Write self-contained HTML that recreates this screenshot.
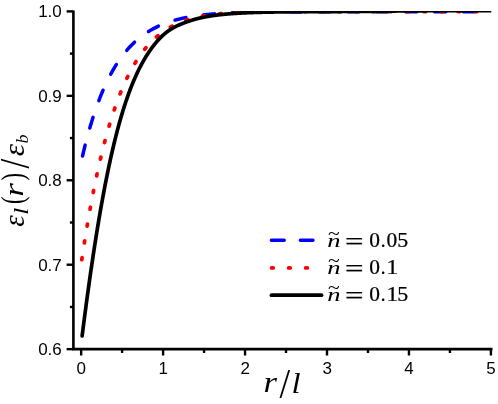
<!DOCTYPE html>
<html><head><meta charset="utf-8"><title>plot</title>
<style>
html,body{margin:0;padding:0;background:#fff;}
svg{display:block;}
.s{font-family:"Liberation Sans",sans-serif;font-size:17px;fill:#000;}
</style></head><body>
<svg width="498" height="404" viewBox="0 0 498 404">
<rect width="498" height="404" fill="#fff"/>
<g fill="none" stroke-linecap="round" stroke-linejoin="round">
<path d="M82.5,156.00 L83.0,153.97 L83.5,151.87 L84.0,149.81 L84.5,147.78 L85.0,145.77 L85.5,143.80 L86.0,141.86 L86.5,139.94 L87.0,138.06 L87.5,136.20 L88.0,134.37 L88.5,132.57 L89.0,130.79 L89.5,129.04 L90.0,127.31 L90.5,125.62 L91.0,123.94 L91.5,122.29 L92.0,120.67 L92.5,119.06 L93.0,117.49 L93.5,115.93 L94.0,114.40 L94.5,112.89 L95.0,111.40 L95.5,109.94 L96.0,108.49 L96.5,107.07 L97.0,105.67 L97.5,104.29 L98.0,102.92 L98.5,101.58 L99.0,100.26 L99.5,98.96 L100.0,97.67 L100.5,96.41 L101.0,95.16 L101.5,93.93 L102.0,92.72 L102.5,91.53 L103.0,90.35 L103.5,89.20 L104.0,88.05 L104.5,86.93 L105.0,85.82 L105.5,84.73 L106.0,83.65 L106.5,82.59 L107.0,81.54 L107.5,80.51 L108.0,79.50 L108.5,78.49 L109.0,77.51 L109.5,76.54 L110.0,75.58 L110.5,74.63 L111.0,73.70 L111.5,72.78 L112.0,71.88 L112.5,70.99 L113.0,70.11 L113.5,69.25 L114.0,68.39 L114.5,67.55 L115.0,66.72 L115.5,65.91 L116.0,65.10 L116.5,64.31 L117.0,63.53 L117.5,62.76 L118.0,62.00 L118.5,61.25 L119.0,60.51 L119.5,59.78 L120.0,59.07 L120.5,58.36 L121.0,57.67 L121.5,56.98 L122.0,56.30 L122.5,55.64 L123.0,54.98 L123.5,54.33 L124.0,53.69 L124.5,53.07 L125.0,52.45 L125.5,51.84 L126.0,51.23 L126.5,50.64 L127.0,50.06 L127.5,49.48 L128.0,48.91 L128.5,48.35 L129.0,47.80 L129.5,47.26 L130.0,46.72 L130.5,46.19 L131.0,45.67 L131.5,45.16 L132.0,44.65 L132.5,44.15 L133.0,43.66 L133.5,43.18 L134.0,42.70 L134.5,42.23 L135.0,41.77 L135.5,41.31 L136.0,40.86 L136.5,40.42 L137.0,39.98 L137.5,39.55 L138.0,39.12 L138.5,38.71 L139.0,38.29 L139.5,37.89 L140.0,37.49 L140.5,37.09 L141.0,36.70 L141.5,36.32 L142.0,35.94 L142.5,35.57 L143.0,35.20 L143.5,34.84 L144.0,34.48 L144.5,34.13 L145.0,33.79 L145.5,33.45 L146.0,33.11 L146.5,32.78 L147.0,32.45 L147.5,32.13 L148.0,31.81 L148.5,31.50 L149.0,31.19 L149.5,30.89 L150.0,30.59 L150.5,30.30 L151.0,30.01 L151.5,29.72 L152.0,29.44 L152.5,29.16 L153.0,28.89 L153.5,28.62 L154.0,28.35 L154.5,28.09 L155.0,27.83 L155.5,27.58 L156.0,27.33 L156.5,27.08 L157.0,26.84 L157.5,26.60 L158.0,26.37 L158.5,26.13 L159.0,25.91 L159.5,25.68 L160.0,25.46 L160.5,25.24 L161.0,25.02 L161.5,24.81 L162.0,24.60 L162.5,24.40 L163.0,24.19 L163.5,23.99 L164.0,23.80 L164.5,23.60 L165.0,23.41 L165.5,23.22 L166.0,23.04 L166.5,22.86 L167.0,22.68 L167.5,22.50 L168.0,22.33 L168.5,22.15 L169.0,21.98 L169.5,21.82 L170.0,21.65 L170.5,21.49 L171.0,21.33 L171.5,21.18 L172.0,21.02 L172.5,20.87 L173.0,20.72 L173.5,20.57 L174.0,20.43 L174.5,20.28 L175.0,20.14 L175.5,20.00 L176.0,19.87 L176.5,19.73 L177.0,19.60 L177.5,19.47 L178.0,19.34 L178.5,19.22 L179.0,19.09 L179.5,18.97 L180.0,18.85 L180.5,18.73 L181.0,18.61 L181.5,18.50 L182.0,18.38 L182.5,18.27 L183.0,18.16 L183.5,18.06 L184.0,17.95 L184.5,17.84 L185.0,17.74 L185.5,17.64 L186.0,17.54 L186.5,17.44 L187.0,17.34 L187.5,17.25 L188.0,17.16 L188.5,17.06 L189.0,16.97 L189.5,16.88 L190.0,16.80 L190.5,16.71 L191.0,16.62 L191.5,16.54 L192.0,16.46 L192.5,16.38 L193.0,16.30 L193.5,16.22 L194.0,16.14 L194.5,16.06 L195.0,15.99 L195.5,15.92 L196.0,15.84 L196.5,15.77 L197.0,15.70 L197.5,15.63 L198.0,15.57 L198.5,15.50 L199.0,15.43 L199.5,15.37 L200.0,15.31 L200.5,15.24 L201.0,15.18 L201.5,15.12 L202.0,15.06 L202.5,15.00 L203.0,14.95 L203.5,14.89 L204.0,14.83 L204.5,14.78 L205.0,14.72 L205.5,14.67 L206.0,14.62 L206.5,14.57 L207.0,14.52 L207.5,14.47 L208.0,14.42 L208.5,14.37 L209.0,14.33 L209.5,14.28 L210.0,14.23 L210.5,14.19 L211.0,14.15 L211.5,14.10 L212.0,14.06 L212.5,14.02 L213.0,13.98 L213.5,13.94 L214.0,13.90 L214.5,13.86 L215.0,13.82 L215.5,13.78 L216.0,13.75 L216.5,13.71 L217.0,13.67 L217.5,13.64 L218.0,13.60 L218.5,13.57 L219.0,13.54 L219.5,13.50 L220.0,13.47 L220.5,13.44 L221.0,13.41 L221.5,13.38 L222.0,13.35 L222.5,13.32 L223.0,13.29 L223.5,13.26 L224.0,13.24 L224.5,13.21 L225.0,13.18 L225.5,13.15 L226.0,13.13 L226.5,13.10 L227.0,13.08 L227.5,13.05 L228.0,13.03 L228.5,13.01 L229.0,12.98 L229.5,12.96 L230.0,12.94 L230.5,12.92 L231.0,12.89 L231.5,12.87 L232.0,12.85 L232.5,12.83 L233.0,12.81 L233.5,12.79 L234.0,12.77 L234.5,12.75 L235.0,12.74 L235.5,12.72 L236.0,12.70 L236.5,12.68 L237.0,12.66 L237.5,12.65 L238.0,12.63 L238.5,12.61 L239.0,12.60 L239.5,12.58 L240.0,12.57 L240.5,12.55 L241.0,12.54 L241.5,12.52 L242.0,12.51 L242.5,12.50 L243.0,12.48 L243.5,12.47 L244.0,12.46 L244.5,12.44 L245.0,12.43 L245.5,12.42 L246.0,12.40 L246.5,12.39 L247.0,12.38 L247.5,12.37 L248.0,12.36 L248.5,12.35 L249.0,12.34 L249.5,12.33 L250.0,12.32 L250.5,12.31 L251.0,12.30 L251.5,12.29 L252.0,12.28 L252.5,12.27 L253.0,12.26 L253.5,12.25 L254.0,12.24 L254.5,12.23 L255.0,12.22 L255.5,12.21 L256.0,12.21 L256.5,12.20 L257.0,12.19 L257.5,12.18 L258.0,12.18 L258.5,12.17 L259.0,12.16 L259.5,12.15 L260.0,12.15 L260.5,12.14 L261.0,12.13 L261.5,12.13 L262.0,12.12 L262.5,12.11 L263.0,12.11 L263.5,12.10 L264.0,12.10 L264.5,12.09 L265.0,12.09 L265.5,12.08 L266.0,12.07 L266.5,12.07 L267.0,12.06 L267.5,12.06 L268.0,12.05 L268.5,12.05 L269.0,12.04 L269.5,12.04 L270.0,12.04 L270.5,12.03 L271.0,12.03 L271.5,12.02 L272.0,12.02 L272.5,12.01 L273.0,12.01 L273.5,12.01 L274.0,12.00 L274.5,12.00 L275.0,12.00 L275.5,11.99 L276.0,11.99 L276.5,11.98 L277.0,11.98 L277.5,11.98 L278.0,11.98 L278.5,11.97 L279.0,11.97 L279.5,11.97 L280.0,11.96 L280.5,11.96 L281.0,11.96 L283.0,11.95 L285.0,11.94 L287.0,11.93 L289.0,11.92 L291.0,11.91 L293.0,11.91 L295.0,11.90 L297.0,11.90 L299.0,11.89 L301.0,11.89 L303.0,11.88 L305.0,11.88 L307.0,11.88 L309.0,11.87 L311.0,11.87 L313.0,11.87 L315.0,11.87 L317.0,11.87 L319.0,11.86 L321.0,11.86 L323.0,11.86 L325.0,11.86 L327.0,11.86 L329.0,11.86 L331.0,11.86 L333.0,11.86 L335.0,11.86 L337.0,11.85 L339.0,11.85 L341.0,11.85 L343.0,11.85 L345.0,11.85 L347.0,11.85 L349.0,11.85 L351.0,11.85 L353.0,11.85 L355.0,11.85 L357.0,11.85 L359.0,11.85 L361.0,11.85 L363.0,11.85 L365.0,11.85 L367.0,11.85 L369.0,11.85 L371.0,11.85 L373.0,11.85 L375.0,11.85 L377.0,11.85 L379.0,11.85 L381.0,11.85 L383.0,11.85 L385.0,11.85 L387.0,11.85 L389.0,11.85 L391.0,11.85 L393.0,11.85 L395.0,11.85 L397.0,11.85 L399.0,11.85 L401.0,11.85 L403.0,11.85 L405.0,11.85 L407.0,11.85 L409.0,11.85 L411.0,11.85 L413.0,11.85 L415.0,11.85 L417.0,11.85 L419.0,11.85 L421.0,11.85 L423.0,11.85 L425.0,11.85 L427.0,11.85 L429.0,11.85 L431.0,11.85 L433.0,11.85 L435.0,11.85 L437.0,11.85 L439.0,11.85 L441.0,11.85 L443.0,11.85 L445.0,11.85 L447.0,11.85 L449.0,11.85 L451.0,11.85 L453.0,11.85 L455.0,11.85 L457.0,11.85 L459.0,11.85 L461.0,11.85 L463.0,11.85 L465.0,11.85 L467.0,11.85 L469.0,11.85 L471.0,11.85 L473.0,11.85 L475.0,11.85 L477.0,11.85 L479.0,11.85 L481.0,11.85 L483.0,11.85 L485.0,11.85 L487.0,11.85 L489.0,11.85 L491.0,11.85" stroke="#0000ff" stroke-width="3.5" stroke-dasharray="11.2 17.7"/>
<path d="M81.8,259.70 L82.0,258.27 L82.5,254.94 L83.0,251.66 L83.5,248.41 L84.0,245.20 L84.5,242.03 L85.0,238.89 L85.5,235.80 L86.0,232.74 L86.5,229.72 L87.0,226.74 L87.5,223.79 L88.0,220.88 L88.5,218.00 L89.0,215.16 L89.5,212.36 L90.0,209.58 L90.5,206.85 L91.0,204.14 L91.5,201.47 L92.0,198.83 L92.5,196.23 L93.0,193.66 L93.5,191.12 L94.0,188.61 L94.5,186.13 L95.0,183.68 L95.5,181.27 L96.0,178.88 L96.5,176.53 L97.0,174.20 L97.5,171.90 L98.0,169.63 L98.5,167.39 L99.0,165.18 L99.5,163.00 L100.0,160.84 L100.5,158.72 L101.0,156.61 L101.5,154.54 L102.0,152.49 L102.5,150.47 L103.0,148.48 L103.5,146.51 L104.0,144.56 L104.5,142.64 L105.0,140.75 L105.5,138.88 L106.0,137.03 L106.5,135.21 L107.0,133.41 L107.5,131.63 L108.0,129.88 L108.5,128.15 L109.0,126.45 L109.5,124.76 L110.0,123.10 L110.5,121.46 L111.0,119.84 L111.5,118.24 L112.0,116.67 L112.5,115.11 L113.0,113.58 L113.5,112.06 L114.0,110.57 L114.5,109.10 L115.0,107.64 L115.5,106.21 L116.0,104.79 L116.5,103.39 L117.0,102.02 L117.5,100.66 L118.0,99.31 L118.5,97.99 L119.0,96.69 L119.5,95.40 L120.0,94.13 L120.5,92.88 L121.0,91.64 L121.5,90.42 L122.0,89.22 L122.5,88.03 L123.0,86.86 L123.5,85.71 L124.0,84.57 L124.5,83.45 L125.0,82.35 L125.5,81.26 L126.0,80.18 L126.5,79.12 L127.0,78.07 L127.5,77.04 L128.0,76.02 L128.5,75.02 L129.0,74.03 L129.5,73.06 L130.0,72.10 L130.5,71.15 L131.0,70.21 L131.5,69.29 L132.0,68.38 L132.5,67.49 L133.0,66.61 L133.5,65.74 L134.0,64.88 L134.5,64.03 L135.0,63.20 L135.5,62.38 L136.0,61.57 L136.5,60.77 L137.0,59.99 L137.5,59.21 L138.0,58.45 L138.5,57.69 L139.0,56.95 L139.5,56.22 L140.0,55.50 L140.5,54.79 L141.0,54.09 L141.5,53.40 L142.0,52.72 L142.5,52.05 L143.0,51.39 L143.5,50.74 L144.0,50.10 L144.5,49.47 L145.0,48.85 L145.5,48.24 L146.0,47.64 L146.5,47.04 L147.0,46.46 L147.5,45.88 L148.0,45.31 L148.5,44.75 L149.0,44.20 L149.5,43.66 L150.0,43.12 L150.5,42.60 L151.0,42.08 L151.5,41.57 L152.0,41.07 L152.5,40.57 L153.0,40.08 L153.5,39.60 L154.0,39.13 L154.5,38.66 L155.0,38.20 L155.5,37.75 L156.0,37.31 L156.5,36.87 L157.0,36.44 L157.5,36.01 L158.0,35.60 L158.5,35.19 L159.0,34.78 L159.5,34.38 L160.0,33.99 L160.5,33.60 L161.0,33.22 L161.5,32.85 L162.0,32.48 L162.5,32.12 L163.0,31.76 L163.5,31.41 L164.0,31.06 L164.5,30.72 L165.0,30.39 L165.5,30.06 L166.0,29.73 L166.5,29.41 L167.0,29.10 L167.5,28.79 L168.0,28.49 L168.5,28.19 L169.0,27.89 L169.5,27.60 L170.0,27.32 L170.5,27.04 L171.0,26.76 L171.5,26.49 L172.0,26.22 L172.5,25.96 L173.0,25.70 L173.5,25.45 L174.0,25.20 L174.5,24.95 L175.0,24.71 L175.5,24.47 L176.0,24.24 L176.5,24.01 L177.0,23.78 L177.5,23.56 L178.0,23.34 L178.5,23.13 L179.0,22.92 L179.5,22.71 L180.0,22.50 L180.5,22.30 L181.0,22.10 L181.5,21.91 L182.0,21.72 L182.5,21.53 L183.0,21.35 L183.5,21.16 L184.0,20.99 L184.5,20.81 L185.0,20.64 L185.5,20.47 L186.0,20.30 L186.5,20.14 L187.0,19.98 L187.5,19.82 L188.0,19.66 L188.5,19.51 L189.0,19.36 L189.5,19.21 L190.0,19.06 L190.5,18.92 L191.0,18.78 L191.5,18.64 L192.0,18.51 L192.5,18.38 L193.0,18.25 L193.5,18.12 L194.0,17.99 L194.5,17.87 L195.0,17.74 L195.5,17.63 L196.0,17.51 L196.5,17.39 L197.0,17.28 L197.5,17.17 L198.0,17.06 L198.5,16.95 L199.0,16.84 L199.5,16.74 L200.0,16.64 L200.5,16.54 L201.0,16.44 L201.5,16.34 L202.0,16.25 L202.5,16.16 L203.0,16.07 L203.5,15.98 L204.0,15.89 L204.5,15.80 L205.0,15.72 L205.5,15.63 L206.0,15.55 L206.5,15.47 L207.0,15.39 L207.5,15.31 L208.0,15.24 L208.5,15.16 L209.0,15.09 L209.5,15.02 L210.0,14.95 L210.5,14.88 L211.0,14.81 L211.5,14.74 L212.0,14.68 L212.5,14.62 L213.0,14.55 L213.5,14.49 L214.0,14.43 L214.5,14.37 L215.0,14.31 L215.5,14.25 L216.0,14.20 L216.5,14.14 L217.0,14.09 L217.5,14.04 L218.0,13.98 L218.5,13.93 L219.0,13.88 L219.5,13.83 L220.0,13.79 L220.5,13.74 L221.0,13.69 L221.5,13.65 L222.0,13.60 L222.5,13.56 L223.0,13.51 L223.5,13.47 L224.0,13.43 L224.5,13.39 L225.0,13.35 L225.5,13.31 L226.0,13.27 L226.5,13.24 L227.0,13.20 L227.5,13.16 L228.0,13.13 L228.5,13.09 L229.0,13.06 L229.5,13.03 L230.0,12.99 L230.5,12.96 L231.0,12.93 L231.5,12.90 L232.0,12.87 L232.5,12.84 L233.0,12.81 L233.5,12.78 L234.0,12.76 L234.5,12.73 L235.0,12.70 L235.5,12.68 L236.0,12.65 L236.5,12.63 L237.0,12.60 L237.5,12.58 L238.0,12.55 L238.5,12.53 L239.0,12.51 L239.5,12.49 L240.0,12.46 L240.5,12.44 L241.0,12.42 L241.5,12.40 L242.0,12.38 L242.5,12.36 L243.0,12.34 L243.5,12.33 L244.0,12.31 L244.5,12.29 L245.0,12.27 L245.5,12.25 L246.0,12.24 L246.5,12.22 L247.0,12.20 L247.5,12.19 L248.0,12.17 L248.5,12.16 L249.0,12.14 L249.5,12.13 L250.0,12.11 L250.5,12.10 L251.0,12.09 L251.5,12.07 L252.0,12.06 L252.5,12.05 L253.0,12.04 L253.5,12.02 L254.0,12.01 L254.5,12.00 L255.0,11.99 L255.5,11.98 L256.0,11.97 L256.5,11.95 L257.0,11.94 L257.5,11.93 L258.0,11.92 L258.5,11.91 L259.0,11.90 L259.5,11.89 L260.0,11.89 L260.5,11.88 L261.0,11.87 L261.5,11.86 L262.0,11.85 L262.5,11.84 L263.0,11.83 L263.5,11.83 L264.0,11.82 L264.5,11.81 L265.0,11.80 L265.5,11.80 L266.0,11.79 L266.5,11.78 L267.0,11.78 L267.5,11.77 L268.0,11.76 L268.5,11.76 L269.0,11.75 L269.5,11.74 L270.0,11.74 L270.5,11.73 L271.0,11.73 L271.5,11.72 L272.0,11.72 L272.5,11.71 L273.0,11.71 L273.5,11.70 L274.0,11.70 L274.5,11.69 L275.0,11.69 L275.5,11.68 L276.0,11.68 L276.5,11.67 L277.0,11.67 L277.5,11.67 L278.0,11.66 L278.5,11.66 L279.0,11.65 L279.5,11.65 L280.0,11.65 L280.5,11.64 L281.0,11.64 L283.0,11.63 L285.0,11.61 L287.0,11.60 L289.0,11.59 L291.0,11.58 L293.0,11.57 L295.0,11.57 L297.0,11.56 L299.0,11.55 L301.0,11.55 L303.0,11.54 L305.0,11.54 L307.0,11.54 L309.0,11.53 L311.0,11.53 L313.0,11.53 L315.0,11.52 L317.0,11.52 L319.0,11.52 L321.0,11.52 L323.0,11.51 L325.0,11.51 L327.0,11.51 L329.0,11.51 L331.0,11.51 L333.0,11.51 L335.0,11.51 L337.0,11.51 L339.0,11.51 L341.0,11.51 L343.0,11.50 L345.0,11.50 L347.0,11.50 L349.0,11.50 L351.0,11.50 L353.0,11.50 L355.0,11.50 L357.0,11.50 L359.0,11.50 L361.0,11.50 L363.0,11.50 L365.0,11.50 L367.0,11.50 L369.0,11.50 L371.0,11.50 L373.0,11.50 L375.0,11.50 L377.0,11.50 L379.0,11.50 L381.0,11.50 L383.0,11.50 L385.0,11.50 L387.0,11.50 L389.0,11.50 L391.0,11.50 L393.0,11.50 L395.0,11.50 L397.0,11.50 L399.0,11.50 L401.0,11.50 L403.0,11.50 L405.0,11.50 L407.0,11.50 L409.0,11.50 L411.0,11.50 L413.0,11.50 L415.0,11.50 L417.0,11.50 L419.0,11.50 L421.0,11.50 L423.0,11.50 L425.0,11.50 L427.0,11.50 L429.0,11.50 L431.0,11.50 L433.0,11.50 L435.0,11.50 L437.0,11.50 L439.0,11.50 L441.0,11.50 L443.0,11.50 L445.0,11.50 L447.0,11.50 L449.0,11.50 L451.0,11.50 L453.0,11.50 L455.0,11.50 L457.0,11.50 L459.0,11.50 L461.0,11.50 L463.0,11.50 L465.0,11.50 L467.0,11.50 L469.0,11.50 L471.0,11.50 L473.0,11.50 L475.0,11.50 L477.0,11.50 L479.0,11.50 L481.0,11.50 L483.0,11.50 L485.0,11.50 L487.0,11.50 L489.0,11.50 L491.0,11.50" stroke="#ff0000" stroke-width="3.8" stroke-dasharray="2.0 15.05"/>
<path d="M82.1,336.00 L82.5,332.87 L83.0,328.95 L83.5,325.07 L84.0,321.20 L84.5,317.37 L85.0,313.57 L85.5,309.79 L86.0,306.04 L86.5,302.31 L87.0,298.62 L87.5,294.95 L88.0,291.32 L88.5,287.71 L89.0,284.13 L89.5,280.58 L90.0,277.06 L90.5,273.57 L91.0,270.11 L91.5,266.68 L92.0,263.29 L92.5,259.92 L93.0,256.58 L93.5,253.27 L94.0,249.99 L94.5,246.75 L95.0,243.53 L95.5,240.34 L96.0,237.19 L96.5,234.07 L97.0,230.97 L97.5,227.91 L98.0,224.88 L98.5,221.88 L99.0,218.91 L99.5,215.97 L100.0,213.06 L100.5,210.18 L101.0,207.34 L101.5,204.52 L102.0,201.74 L102.5,198.98 L103.0,196.26 L103.5,193.56 L104.0,190.90 L104.5,188.26 L105.0,185.66 L105.5,183.09 L106.0,180.54 L106.5,178.03 L107.0,175.54 L107.5,173.08 L108.0,170.66 L108.5,168.26 L109.0,165.89 L109.5,163.55 L110.0,161.24 L110.5,158.96 L111.0,156.70 L111.5,154.48 L112.0,152.28 L112.5,150.11 L113.0,147.96 L113.5,145.85 L114.0,143.76 L114.5,141.70 L115.0,139.66 L115.5,137.66 L116.0,135.67 L116.5,133.72 L117.0,131.79 L117.5,129.89 L118.0,128.01 L118.5,126.15 L119.0,124.33 L119.5,122.52 L120.0,120.75 L120.5,118.99 L121.0,117.26 L121.5,115.56 L122.0,113.88 L122.5,112.22 L123.0,110.58 L123.5,108.97 L124.0,107.38 L124.5,105.82 L125.0,104.28 L125.5,102.75 L126.0,101.25 L126.5,99.78 L127.0,98.32 L127.5,96.89 L128.0,95.47 L128.5,94.08 L129.0,92.71 L129.5,91.36 L130.0,90.02 L130.5,88.71 L131.0,87.42 L131.5,86.15 L132.0,84.89 L132.5,83.66 L133.0,82.44 L133.5,81.25 L134.0,80.07 L134.5,78.91 L135.0,77.76 L135.5,76.64 L136.0,75.53 L136.5,74.44 L137.0,73.36 L137.5,72.30 L138.0,71.26 L138.5,70.23 L139.0,69.22 L139.5,68.23 L140.0,67.25 L140.5,66.28 L141.0,65.33 L141.5,64.40 L142.0,63.47 L142.5,62.57 L143.0,61.67 L143.5,60.79 L144.0,59.93 L144.5,59.07 L145.0,58.23 L145.5,57.40 L146.0,56.58 L146.5,55.78 L147.0,54.99 L147.5,54.21 L148.0,53.44 L148.5,52.68 L149.0,51.93 L149.5,51.20 L150.0,50.47 L150.5,49.76 L151.0,49.05 L151.5,48.36 L152.0,47.68 L152.5,47.00 L153.0,46.34 L153.5,45.69 L154.0,45.05 L154.5,44.41 L155.0,43.79 L155.5,43.18 L156.0,42.58 L156.5,41.99 L157.0,41.40 L157.5,40.83 L158.0,40.27 L158.5,39.72 L159.0,39.18 L159.5,38.65 L160.0,38.13 L160.5,37.62 L161.0,37.11 L161.5,36.62 L162.0,36.15 L162.5,35.68 L163.0,35.22 L163.5,34.77 L164.0,34.33 L164.5,33.90 L165.0,33.48 L165.5,33.07 L166.0,32.67 L166.5,32.28 L167.0,31.90 L167.5,31.53 L168.0,31.17 L168.5,30.82 L169.0,30.48 L169.5,30.14 L170.0,29.81 L170.5,29.49 L171.0,29.18 L171.5,28.87 L172.0,28.58 L172.5,28.29 L173.0,28.00 L173.5,27.72 L174.0,27.45 L174.5,27.18 L175.0,26.92 L175.5,26.67 L176.0,26.41 L176.5,26.17 L177.0,25.93 L177.5,25.69 L178.0,25.45 L178.5,25.22 L179.0,25.00 L179.5,24.78 L180.0,24.56 L180.5,24.34 L181.0,24.13 L181.5,23.92 L182.0,23.71 L182.5,23.51 L183.0,23.31 L183.5,23.11 L184.0,22.92 L184.5,22.73 L185.0,22.54 L185.5,22.35 L186.0,22.17 L186.5,21.98 L187.0,21.81 L187.5,21.63 L188.0,21.46 L188.5,21.28 L189.0,21.12 L189.5,20.95 L190.0,20.79 L190.5,20.62 L191.0,20.47 L191.5,20.31 L192.0,20.16 L192.5,20.00 L193.0,19.86 L193.5,19.71 L194.0,19.57 L194.5,19.42 L195.0,19.28 L195.5,19.15 L196.0,19.01 L196.5,18.88 L197.0,18.75 L197.5,18.62 L198.0,18.50 L198.5,18.37 L199.0,18.25 L199.5,18.13 L200.0,18.02 L200.5,17.90 L201.0,17.79 L201.5,17.68 L202.0,17.57 L202.5,17.46 L203.0,17.36 L203.5,17.25 L204.0,17.15 L204.5,17.05 L205.0,16.95 L205.5,16.86 L206.0,16.76 L206.5,16.67 L207.0,16.58 L207.5,16.49 L208.0,16.40 L208.5,16.32 L209.0,16.23 L209.5,16.15 L210.0,16.07 L210.5,15.99 L211.0,15.91 L211.5,15.83 L212.0,15.76 L212.5,15.68 L213.0,15.61 L213.5,15.54 L214.0,15.47 L214.5,15.40 L215.0,15.33 L215.5,15.26 L216.0,15.20 L216.5,15.13 L217.0,15.07 L217.5,15.01 L218.0,14.94 L218.5,14.88 L219.0,14.83 L219.5,14.77 L220.0,14.71 L220.5,14.65 L221.0,14.60 L221.5,14.55 L222.0,14.49 L222.5,14.44 L223.0,14.39 L223.5,14.34 L224.0,14.29 L224.5,14.24 L225.0,14.20 L225.5,14.15 L226.0,14.10 L226.5,14.06 L227.0,14.01 L227.5,13.97 L228.0,13.93 L228.5,13.89 L229.0,13.84 L229.5,13.80 L230.0,13.76 L230.5,13.73 L231.0,13.69 L231.5,13.65 L232.0,13.61 L232.5,13.58 L233.0,13.54 L233.5,13.51 L234.0,13.47 L234.5,13.44 L235.0,13.40 L235.5,13.37 L236.0,13.34 L236.5,13.31 L237.0,13.28 L237.5,13.25 L238.0,13.22 L238.5,13.19 L239.0,13.16 L239.5,13.13 L240.0,13.10 L240.5,13.07 L241.0,13.05 L241.5,13.02 L242.0,13.00 L242.5,12.97 L243.0,12.95 L243.5,12.92 L244.0,12.90 L244.5,12.87 L245.0,12.85 L245.5,12.83 L246.0,12.80 L246.5,12.78 L247.0,12.76 L247.5,12.74 L248.0,12.72 L248.5,12.70 L249.0,12.68 L249.5,12.66 L250.0,12.64 L250.5,12.62 L251.0,12.60 L251.5,12.58 L252.0,12.56 L252.5,12.55 L253.0,12.53 L253.5,12.51 L254.0,12.49 L254.5,12.48 L255.0,12.46 L255.5,12.45 L256.0,12.43 L256.5,12.41 L257.0,12.40 L257.5,12.38 L258.0,12.37 L258.5,12.36 L259.0,12.34 L259.5,12.33 L260.0,12.31 L260.5,12.30 L261.0,12.29 L261.5,12.28 L262.0,12.26 L262.5,12.25 L263.0,12.24 L263.5,12.23 L264.0,12.21 L264.5,12.20 L265.0,12.19 L265.5,12.18 L266.0,12.17 L266.5,12.16 L267.0,12.15 L267.5,12.14 L268.0,12.13 L268.5,12.12 L269.0,12.11 L269.5,12.10 L270.0,12.09 L270.5,12.08 L271.0,12.07 L271.5,12.07 L272.0,12.06 L272.5,12.05 L273.0,12.04 L273.5,12.03 L274.0,12.02 L274.5,12.02 L275.0,12.01 L275.5,12.00 L276.0,12.00 L276.5,11.99 L277.0,11.98 L277.5,11.97 L278.0,11.97 L278.5,11.96 L279.0,11.96 L279.5,11.95 L280.0,11.94 L280.5,11.94 L281.0,11.93 L283.0,11.90 L285.0,11.86 L287.0,11.82 L289.0,11.77 L291.0,11.73 L293.0,11.69 L295.0,11.65 L297.0,11.62 L299.0,11.61 L301.0,11.60 L303.0,11.59 L305.0,11.58 L307.0,11.58 L309.0,11.57 L311.0,11.56 L313.0,11.56 L315.0,11.56 L317.0,11.55 L319.0,11.55 L321.0,11.55 L323.0,11.54 L325.0,11.54 L327.0,11.54 L329.0,11.54 L331.0,11.53 L333.0,11.53 L335.0,11.53 L337.0,11.53 L339.0,11.53 L341.0,11.53 L343.0,11.52 L345.0,11.52 L347.0,11.52 L349.0,11.52 L351.0,11.52 L353.0,11.52 L355.0,11.51 L357.0,11.51 L359.0,11.51 L361.0,11.51 L363.0,11.50 L365.0,11.50 L367.0,11.49 L369.0,11.49 L371.0,11.48 L373.0,11.48 L375.0,11.47 L377.0,11.47 L379.0,11.46 L381.0,11.45 L383.0,11.43 L385.0,11.39 L387.0,11.33 L389.0,11.26 L391.0,11.19 L393.0,11.11 L395.0,11.04 L397.0,10.97 L399.0,10.91 L401.0,10.87 L403.0,10.85 L405.0,10.84 L407.0,10.83 L409.0,10.83 L411.0,10.82 L413.0,10.81 L415.0,10.81 L417.0,10.80 L419.0,10.80 L421.0,10.79 L423.0,10.78 L425.0,10.78 L427.0,10.77 L429.0,10.77 L431.0,10.76 L433.0,10.76 L435.0,10.75 L437.0,10.75 L439.0,10.75 L441.0,10.74 L443.0,10.74 L445.0,10.74 L447.0,10.73 L449.0,10.73 L451.0,10.73 L453.0,10.72 L455.0,10.72 L457.0,10.72 L459.0,10.72 L461.0,10.71 L463.0,10.71 L465.0,10.71 L467.0,10.71 L469.0,10.71 L471.0,10.71 L473.0,10.70 L475.0,10.70 L477.0,10.70 L479.0,10.70 L481.0,10.70 L483.0,10.70 L485.0,10.70 L487.0,10.70 L489.0,10.70 L491.0,10.70" stroke="#000" stroke-width="3.7"/>
</g>
<rect x="76" y="0" width="422" height="11" fill="#fff"/><rect x="491.3" y="0" width="6.7" height="30" fill="#fff"/>
<g stroke="#000" stroke-width="2.4" fill="none">
<path d="M73.4,10.4 V349.15 H492.5" stroke-width="2.6" stroke-linejoin="miter"/>
<line x1="66.6" x2="73.4" y1="11.40" y2="11.40"/><line x1="69.9" x2="73.4" y1="53.62" y2="53.62"/><line x1="66.6" x2="73.4" y1="95.84" y2="95.84"/><line x1="69.9" x2="73.4" y1="138.06" y2="138.06"/><line x1="66.6" x2="73.4" y1="180.28" y2="180.28"/><line x1="69.9" x2="73.4" y1="222.49" y2="222.49"/><line x1="66.6" x2="73.4" y1="264.71" y2="264.71"/><line x1="69.9" x2="73.4" y1="306.93" y2="306.93"/><line x1="66.6" x2="73.4" y1="349.15" y2="349.15"/><line x1="81.15" x2="81.15" y1="349.15" y2="355.5"/><line x1="122.12" x2="122.12" y1="349.15" y2="353.0"/><line x1="163.10" x2="163.10" y1="349.15" y2="355.5"/><line x1="204.08" x2="204.08" y1="349.15" y2="353.0"/><line x1="245.05" x2="245.05" y1="349.15" y2="355.5"/><line x1="286.02" x2="286.02" y1="349.15" y2="353.0"/><line x1="327.00" x2="327.00" y1="349.15" y2="355.5"/><line x1="367.98" x2="367.98" y1="349.15" y2="353.0"/><line x1="408.95" x2="408.95" y1="349.15" y2="355.5"/><line x1="449.93" x2="449.93" y1="349.15" y2="353.0"/><line x1="490.90" x2="490.90" y1="349.15" y2="355.5"/>
</g>
<g class="s" style="will-change:opacity;filter:grayscale(1)"><text x="61.8" y="17.4" text-anchor="end">1.0</text><text x="61.8" y="101.8" text-anchor="end">0.9</text><text x="61.8" y="186.3" text-anchor="end">0.8</text><text x="61.8" y="270.7" text-anchor="end">0.7</text><text x="61.8" y="355.1" text-anchor="end">0.6</text><text x="81.3" y="374.0" text-anchor="middle">0</text><text x="163.2" y="374.0" text-anchor="middle">1</text><text x="245.2" y="374.0" text-anchor="middle">2</text><text x="327.2" y="374.0" text-anchor="middle">3</text><text x="409.1" y="374.0" text-anchor="middle">4</text><text x="491.1" y="374.0" text-anchor="middle">5</text></g>
<g fill="none" stroke-linecap="round">
<path d="M271.4,240.2 H284.2 M300.4,240.2 H312.9" stroke="#0000ff" stroke-width="3.5"/>
<path d="M271.6,267.9 h1.6 M288.6,267.9 h1.6 M305.7,267.9 h1.6" stroke="#ff0000" stroke-width="3.8"/>
<path d="M271.5,295.2 H321.5" stroke="#000" stroke-width="3.8"/>
</g>
<g fill="#000" stroke="#000" stroke-width="0.25" style="will-change:opacity;filter:grayscale(1)">
<text transform="translate(345.05,249.86) scale(1.285,1)" font-family="Liberation Serif" font-style="normal" font-size="25.60">=</text>
<text transform="translate(369.20,246.70) scale(1.067,1)" font-family="Liberation Serif" font-style="normal" font-size="20.07">0</text>
<text transform="translate(380.75,246.54) scale(0.938,1)" font-family="Liberation Serif" font-style="normal" font-size="20.43">.</text>
<text transform="translate(386.40,246.70) scale(1.067,1)" font-family="Liberation Serif" font-style="normal" font-size="20.07">0</text>
<text transform="translate(397.34,246.70) scale(1.089,1)" font-family="Liberation Serif" font-style="normal" font-size="20.08">5</text>
<text transform="translate(345.05,277.16) scale(1.285,1)" font-family="Liberation Serif" font-style="normal" font-size="25.60">=</text>
<text transform="translate(369.20,274.00) scale(1.067,1)" font-family="Liberation Serif" font-style="normal" font-size="20.07">0</text>
<text transform="translate(380.75,273.84) scale(0.938,1)" font-family="Liberation Serif" font-style="normal" font-size="20.43">.</text>
<text transform="translate(386.56,274.05) scale(1.154,1)" font-family="Liberation Serif" font-style="normal" font-size="20.15">1</text>
<text transform="translate(345.05,304.41) scale(1.285,1)" font-family="Liberation Serif" font-style="normal" font-size="25.60">=</text>
<text transform="translate(369.20,301.25) scale(1.067,1)" font-family="Liberation Serif" font-style="normal" font-size="20.07">0</text>
<text transform="translate(380.75,301.09) scale(0.938,1)" font-family="Liberation Serif" font-style="normal" font-size="20.43">.</text>
<text transform="translate(386.56,301.30) scale(1.154,1)" font-family="Liberation Serif" font-style="normal" font-size="20.15">1</text>
<text transform="translate(397.34,301.25) scale(1.089,1)" font-family="Liberation Serif" font-style="normal" font-size="20.08">5</text>
</g>
<g fill="#000" style="will-change:opacity;filter:grayscale(1)">
<text transform="translate(327.27,246.75) scale(1.450,1)" font-family="Liberation Serif" font-style="italic" font-size="18.30">n</text>
<text transform="translate(328.00,239.84) scale(1.209,1)" font-family="Liberation Serif" font-style="normal" font-size="17.91">~</text>
<text transform="translate(327.27,274.05) scale(1.450,1)" font-family="Liberation Serif" font-style="italic" font-size="18.30">n</text>
<text transform="translate(328.00,267.14) scale(1.209,1)" font-family="Liberation Serif" font-style="normal" font-size="17.91">~</text>
<text transform="translate(327.27,301.30) scale(1.450,1)" font-family="Liberation Serif" font-style="italic" font-size="18.30">n</text>
<text transform="translate(328.00,294.39) scale(1.209,1)" font-family="Liberation Serif" font-style="normal" font-size="17.91">~</text>
</g>
<g fill="#000" style="will-change:opacity;filter:grayscale(1)">
<text transform="translate(263.52,392.00) scale(1.214,1)" font-family="Liberation Serif" font-style="italic" font-size="28.51">r</text>
<text transform="translate(279.50,397.98) scale(0.911,1)" font-family="Liberation Serif" font-style="normal" font-size="41.94">/</text>
<text transform="translate(291.39,392.70) scale(1.079,1)" font-family="Liberation Serif" font-style="italic" font-size="30.22">l</text>
</g>
<g fill="#000" style="will-change:opacity;filter:grayscale(1)">
<text transform="translate(23.60,226.79) rotate(-90) scale(0.975,1)" font-family="Liberation Serif" font-style="italic" font-size="30.00">ε</text>
<text transform="translate(27.70,214.75) rotate(-90) scale(1.257,1)" font-family="Liberation Serif" font-style="italic" font-size="20.43">l</text>
<text transform="translate(23.07,203.94) rotate(-90) scale(0.720,1)" font-family="Liberation Serif" font-style="normal" font-size="30.74">(</text>
<text transform="translate(22.60,196.80) rotate(-90) scale(1.262,1)" font-family="Liberation Serif" font-style="italic" font-size="27.66">r</text>
<text transform="translate(23.07,180.53) rotate(-90) scale(0.733,1)" font-family="Liberation Serif" font-style="normal" font-size="30.74">)</text>
<text transform="translate(29.19,168.60) rotate(-90) scale(0.845,1)" font-family="Liberation Serif" font-style="normal" font-size="41.34">/</text>
<text transform="translate(23.90,156.32) rotate(-90) scale(1.024,1)" font-family="Liberation Serif" font-style="italic" font-size="30.42">ε</text>
<text transform="translate(27.62,143.58) rotate(-90) scale(1.025,1)" font-family="Liberation Serif" font-style="italic" font-size="17.59">b</text>
</g>
</svg>
</body></html>
